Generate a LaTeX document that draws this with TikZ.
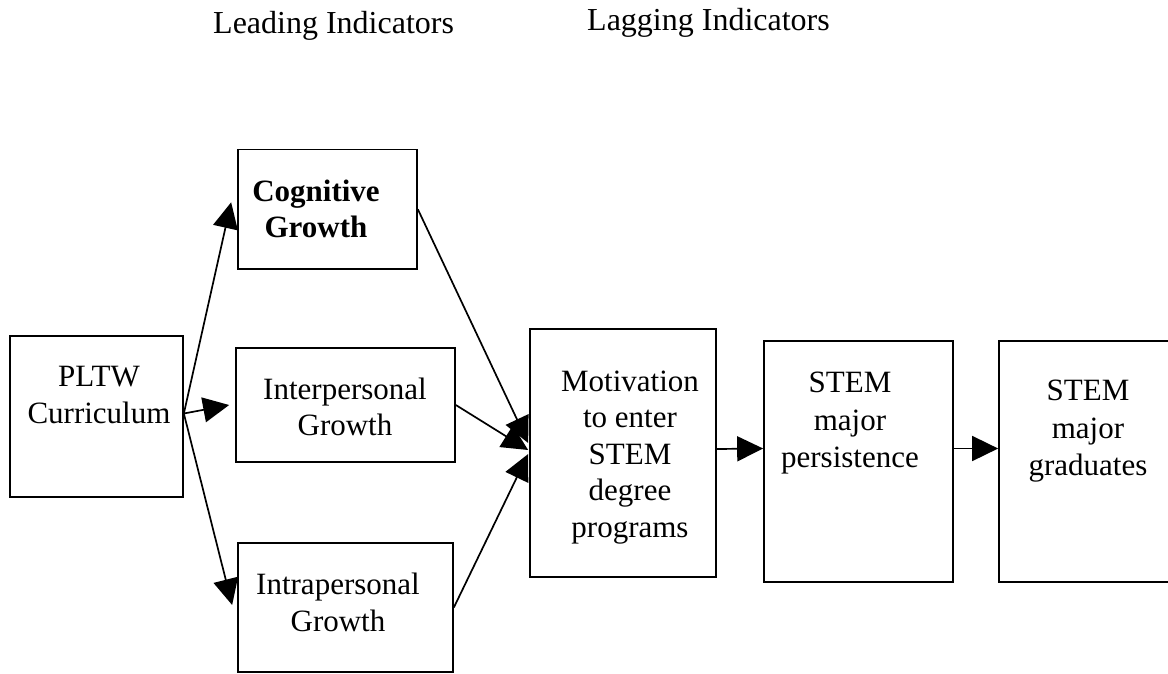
\documentclass[tikz,border=0pt]{standalone}
\usepackage{fontspec}
\setmainfont{Liberation Serif}
\usetikzlibrary{arrows.meta,calc}
\begin{document}
\begin{tikzpicture}[x=1pt,y=-1pt,
  box/.style={draw,line width=1.7pt,inner sep=0pt,rectangle},
  txt/.style={align=center,inner sep=0pt,font=\fontsize{31}{36.5}\selectfont},
  head/.style={inner sep=0pt,anchor=base west,font=\fontsize{32}{38}\selectfont},
  arr/.style={line width=1.7pt,-{Triangle[length=26pt,width=25pt]}}]
\useasboundingbox (0,0) rectangle (1168,673);
% headings
\node[head] (lead) at (213,33) {Leading Indicators};
\node[head] (lag) at (587,30) {Lagging Indicators};
% boxes
\node[box,minimum width=173,minimum height=161] (pltw) at (96.5,416.5) {};
\node[box,minimum width=179,minimum height=119.5] (cog) at (327.5,209.25) {};
\node[box,minimum width=219,minimum height=114] (inter) at (345.5,405) {};
\node[box,minimum width=215,minimum height=129] (intra) at (345.5,607.5) {};
\node[box,minimum width=186,minimum height=248] (mot) at (623,453) {};
\node[box,minimum width=189,minimum height=241] (pers) at (858.5,461.5) {};
\node[box,minimum width=170,minimum height=241] (grad) at (1084,461.5) {};
% texts
\node[txt] (tpltw) at (99,395) {PLTW\\Curriculum};
\node[txt,font=\fontsize{31}{36}\bfseries] (tcog) at (316,209) {Cognitive\\Growth};
\node[txt] (tinter) at (345,407) {Interpersonal\\Growth};
\node[txt] (tintra) at (338,602.5) {Intrapersonal\\Growth};
\node[txt] (tmot) at (630,457.5) {Motivation\\to enter\\STEM\\degree\\programs};
\node[txt,font=\fontsize{31}{37.5}\selectfont] (tpers) at (850,423.5) {STEM\\major\\persistence};
\node[txt,font=\fontsize{31}{37.5}\selectfont] (tgrad) at (1088,431.5) {STEM\\major\\graduates};
% connectors
\draw[arr] ([yshift=3pt]pltw.east) -- ([xshift=-6pt,yshift=7pt]cog.west);
\draw[arr] ([yshift=3pt]pltw.east) -- ([xshift=-6pt]inter.west);
\draw[arr] ([yshift=3pt]pltw.east) -- ([xshift=-5pt,yshift=2.5pt]intra.west);
\draw[arr] (cog.east) -- ([xshift=-1pt,yshift=10pt]mot.west);
\draw[arr] (inter.east) -- ([xshift=-1pt,yshift=3pt]mot.west);
\draw[arr] (intra.east) -- ([xshift=-1pt,yshift=-1pt]mot.west);
\draw[arr] ([yshift=4pt]mot.east) -- ([yshift=13pt]pers.west);
\draw[arr] ([yshift=13pt]pers.east) -- ([yshift=13pt]grad.west);
\end{tikzpicture}
\end{document}
